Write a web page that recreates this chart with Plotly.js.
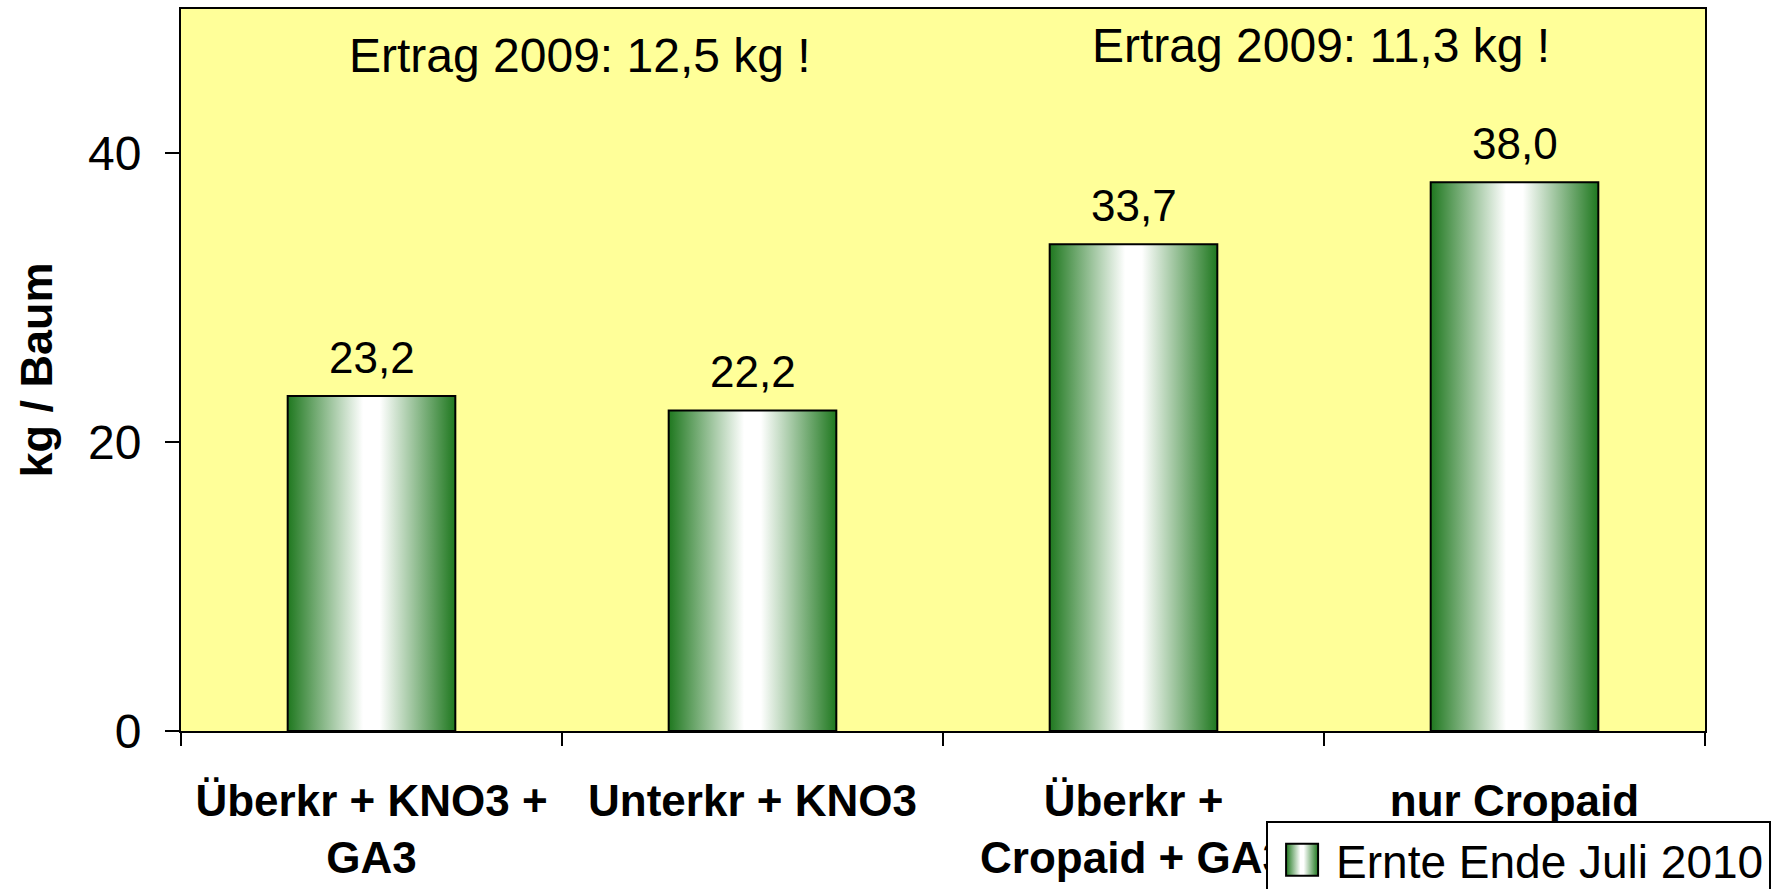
<!DOCTYPE html>
<html>
<head>
<meta charset="utf-8">
<script src="https://cdn.plot.ly/plotly-3.0.1.min.js"></script>
<style>
  html, body { margin: 0; padding: 0; background: #ffffff; }
  #chart { width: 1773px; height: 889px; }
</style>
</head>
<body>
<div id="chart"></div>
<script>
// chart data
var categories = ["Überkr + KNO3 + GA3", "Unterkr + KNO3", "Überkr + Cropaid + GA3", "nur Cropaid"];
var tickLabels = ["Überkr + KNO3 +<br>GA3", "Unterkr + KNO3", "Überkr +<br>Cropaid + GA3", "nur Cropaid"];
var ertrag2010 = [23.2, 22.2, 33.7, 38.0];
var seriesName = "Ernte Ende Juli 2010";
var notes = ["Ertrag 2009: 12,5 kg !", "Ertrag 2009: 11,3 kg !"];

var FONT = "Liberation Sans, Arial, sans-serif";

var data = [{
    type: "bar",
    x: categories,
    y: ertrag2010,
    name: seriesName,
    showlegend: true,
    marker: {
        color: "#2a7d2a",
        line: {color: "#000000", width: 2}
    },
    hoverinfo: "none"
}];

// value labels above bars, decimal comma
var annotations = [];
for (var i = 0; i < categories.length; i++) {
    annotations.push({
        x: categories[i],
        y: ertrag2010[i],
        xref: "x", yref: "y",
        text: ertrag2010[i].toFixed(1).replace(".", ","),
        showarrow: false,
        yanchor: "bottom",
        yshift: 12,
        font: {family: FONT, size: 44, color: "#000000"}
    });
}
annotations.push({
    x: 0.262, y: 0.935, xref: "paper", yref: "paper",
    xanchor: "center", yanchor: "middle",
    text: notes[0], showarrow: false,
    font: {family: FONT, size: 48, color: "#000000"}
});
annotations.push({
    x: 0.748, y: 0.950, xref: "paper", yref: "paper",
    xanchor: "center", yanchor: "middle",
    text: notes[1], showarrow: false,
    font: {family: FONT, size: 48, color: "#000000"}
});

var layout = {
    width: 1773,
    height: 889,
    margin: {l: 181, r: 68, t: 9, b: 158, autoexpand: false},
    paper_bgcolor: "#ffffff",
    plot_bgcolor: "#ffff99",
    font: {family: FONT, color: "#000000"},
    bargap: 0.56,
    showlegend: true,
    legend: {
        x: 0.712, y: -0.125, xanchor: "left", yanchor: "top",
        bgcolor: "#ffffff",
        bordercolor: "#000000",
        borderwidth: 2,
        itemwidth: 58,
        font: {family: FONT, size: 46, color: "#000000"}
    },
    xaxis: {
        type: "category",
        tickvals: categories,
        ticktext: tickLabels,
        tickson: "boundaries",
        ticks: "outside",
        ticklen: 13,
        tickwidth: 2,
        tickcolor: "#000000",
        ticklabelstandoff: 30,
        tickfont: {family: FONT, size: 44, weight: "bold"},
        showline: true,
        linecolor: "#000000",
        linewidth: 2,
        mirror: true,
        showgrid: false,
        zeroline: false
    },
    yaxis: {
        range: [0, 50],
        dtick: 20,
        ticks: "outside",
        ticklen: 14,
        tickwidth: 2,
        tickcolor: "#000000",
        ticklabelstandoff: 14,
        tickfont: {family: FONT, size: 48},
        showline: true,
        linecolor: "#000000",
        linewidth: 2,
        mirror: true,
        showgrid: false,
        zeroline: false,
        title: {text: "<b>kg / Baum</b>", standoff: 21, font: {family: FONT, size: 45}}
    },
    annotations: annotations
};

Plotly.newPlot("chart", data, layout, {staticPlot: true}).then(function(gd){
    // cylinder look: horizontal green-white-green gradient on bars
    var svg = gd.querySelector("svg.main-svg");
    var ns = "http://www.w3.org/2000/svg";
    var defs = svg.querySelector("defs");
    var grad = document.createElementNS(ns, "linearGradient");
    grad.setAttribute("id", "barGrad");
    grad.setAttribute("x1", "0"); grad.setAttribute("y1", "0");
    grad.setAttribute("x2", "1"); grad.setAttribute("y2", "0");
    var stops = [[0, "#1f781f"], [0.45, "#ffffff"], [0.55, "#ffffff"], [1, "#1f781f"]];
    stops.forEach(function(s){
        var st = document.createElementNS(ns, "stop");
        st.setAttribute("offset", s[0]);
        st.setAttribute("stop-color", s[1]);
        grad.appendChild(st);
    });
    defs.appendChild(grad);
    gd.querySelectorAll("g.trace.bars g.point path").forEach(function(p){
        p.style.fill = "url(#barGrad)";
    });
    // legend swatch: bigger square, same gradient
    gd.querySelectorAll("g.legendpoints path").forEach(function(p){
        p.setAttribute("d", "M16,16H-16V-16H16Z");
        p.style.fill = "url(#barGrad)";
        p.style.stroke = "#000000";
        p.style.strokeWidth = "2px";
    });
});
</script>
</body>
</html>
